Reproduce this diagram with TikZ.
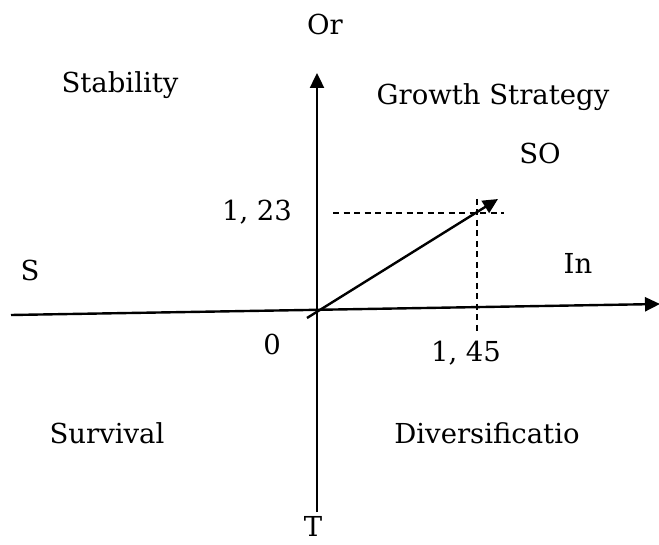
\documentclass[tikz,border=0pt]{standalone}
\usepackage{fontspec}
\setmainfont{DejaVu Serif}
\usetikzlibrary{arrows.meta}
\begin{document}
\begin{tikzpicture}[x=1pt,y=-1pt,
  axisline/.style={line width=2.4pt,-{Triangle[length=15pt,width=14pt]}},
  dashline/.style={line width=2.1pt,dash pattern=on 6pt off 4.5pt},
  lbl/.style={font=\fontsize{27.5}{32}\selectfont,inner sep=0pt,anchor=base}]
\useasboundingbox (0,0) rectangle (659,545);
\coordinate (hl) at (11,315);
\coordinate (hr) at (660,304);
\coordinate (vb) at (317,512);
\coordinate (vt) at (317,73);
\coordinate (ds) at (307,318);
\coordinate (dt) at (498,199);
\coordinate (hdl) at (333,213);
\coordinate (hdr) at (504,213);
\coordinate (vdt) at (477,199);
\coordinate (vdb) at (477,334);
\draw[axisline] (hl) -- (hr);
\draw[axisline] (vb) -- (vt);
\draw[axisline] (ds) -- (dt);
\draw[dashline] (hdl) -- (hdr);
\draw[dashline] (vdt) -- (vdb);
\node[lbl] (or) at (325,35) {Or};
\node[lbl] (stab) at (120,93) {Stability};
\node[lbl] (grow) at (493,105) {Growth Strategy};
\node[lbl] (so) at (540,164) {SO};
\node[lbl] (y) at (257,221) {1, 23};
\node[lbl] (s) at (30,281) {S};
\node[lbl] (in) at (578,274) {In};
\node[lbl] (zero) at (272,355) {0};
\node[lbl] (x) at (466,362) {1, 45};
\node[lbl] (surv) at (107,443) {Survival};
\node[lbl] (div) at (487,443) {Diversificatio};
\node[lbl] (t) at (313,536) {T};
\end{tikzpicture}
\end{document}
